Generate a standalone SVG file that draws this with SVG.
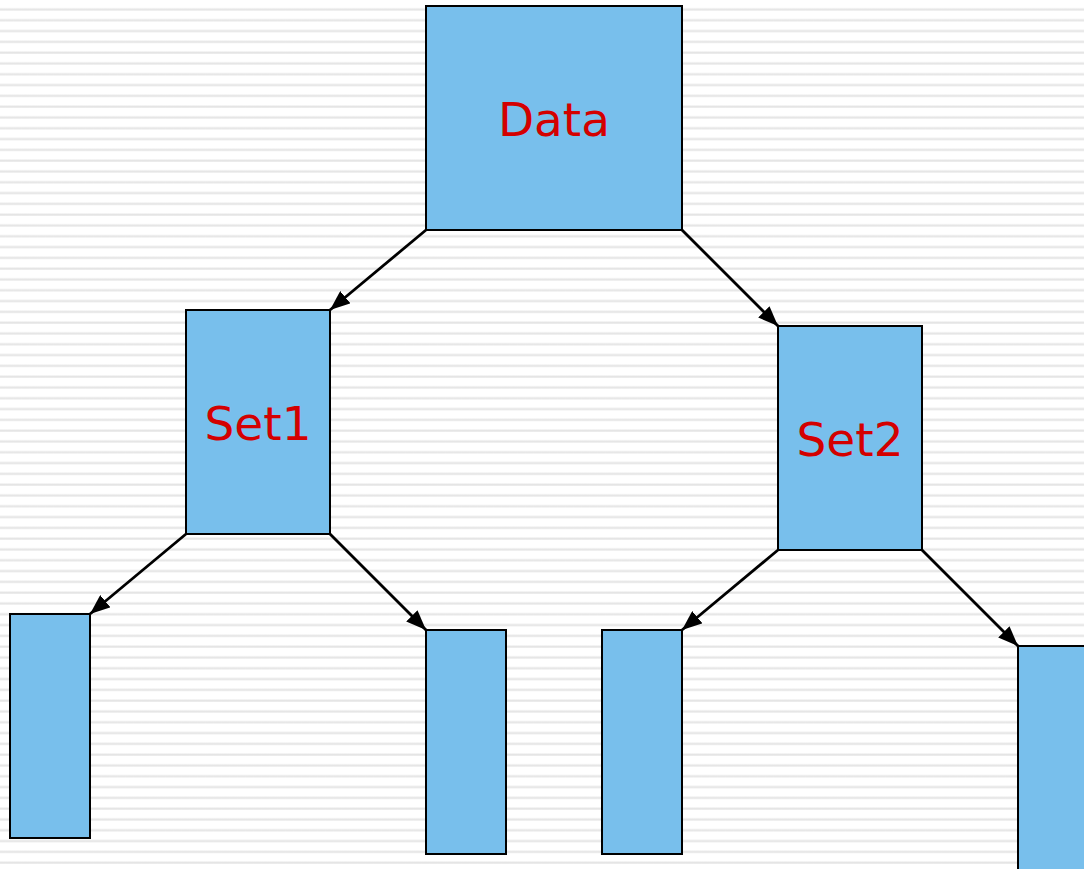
<svg xmlns="http://www.w3.org/2000/svg" width="1084" height="869" viewBox="0 0 1084 869">
  <defs>
    <!-- soft grey horizontal ruling on the background -->
    <linearGradient id="rule" x1="0" y1="0" x2="0" y2="1">
      <stop offset="0" stop-color="#f4f4f4"/>
      <stop offset="0.5" stop-color="#e3e3e3"/>
      <stop offset="1" stop-color="#f2f2f2"/>
    </linearGradient>
    <pattern id="stripes" x="0" y="0" width="16" height="10.8" patternUnits="userSpaceOnUse">
      <rect x="0" y="0" width="16" height="10.8" fill="#ffffff"/>
      <rect x="0" y="8" width="16" height="3" fill="url(#rule)"/>
    </pattern>
    <marker id="head" viewBox="0 0 20 16" refX="20" refY="8" markerWidth="20" markerHeight="16" markerUnits="userSpaceOnUse" orient="auto">
      <path d="M0,0 L20,8 L0,16 z" fill="#000"/>
    </marker>
    <style>
      .box { fill: #78bfec; stroke: #000; stroke-width: 2; }
      .label { font-family: "DejaVu Sans", Verdana, sans-serif; font-size: 47px; fill: #d40000; text-anchor: middle; }
      .edge { stroke: #000; stroke-width: 2.8; fill: none; }
    </style>
  </defs>

  <rect width="1084" height="869" fill="url(#stripes)"/>

  <g id="connectors">
    <line class="edge" x1="426" y1="230" x2="330" y2="310" marker-end="url(#head)"/>
    <line class="edge" x1="682" y1="230" x2="778" y2="326" marker-end="url(#head)"/>
    <line class="edge" x1="186" y1="534" x2="90" y2="614" marker-end="url(#head)"/>
    <line class="edge" x1="330" y1="534" x2="426" y2="630" marker-end="url(#head)"/>
    <line class="edge" x1="778" y1="550" x2="682" y2="630" marker-end="url(#head)"/>
    <line class="edge" x1="922" y1="550" x2="1018" y2="646" marker-end="url(#head)"/>
  </g>

  <g id="data">
    <rect class="box" x="426" y="6" width="256" height="224"/>
    <text class="label" x="554" y="136">Data</text>
  </g>
  <g id="set1">
    <rect class="box" x="186" y="310" width="144" height="224"/>
    <text class="label" x="258" y="440">Set1</text>
  </g>
  <g id="set2">
    <rect class="box" x="778" y="326" width="144" height="224"/>
    <text class="label" x="850" y="456">Set2</text>
  </g>
  <g id="leaf1">
    <rect class="box" x="10" y="614" width="80" height="224"/>
  </g>
  <g id="leaf2">
    <rect class="box" x="426" y="630" width="80" height="224"/>
  </g>
  <g id="leaf3">
    <rect class="box" x="602" y="630" width="80" height="224"/>
  </g>
  <g id="leaf4">
    <rect class="box" x="1018" y="646" width="80" height="224"/>
  </g>
</svg>
